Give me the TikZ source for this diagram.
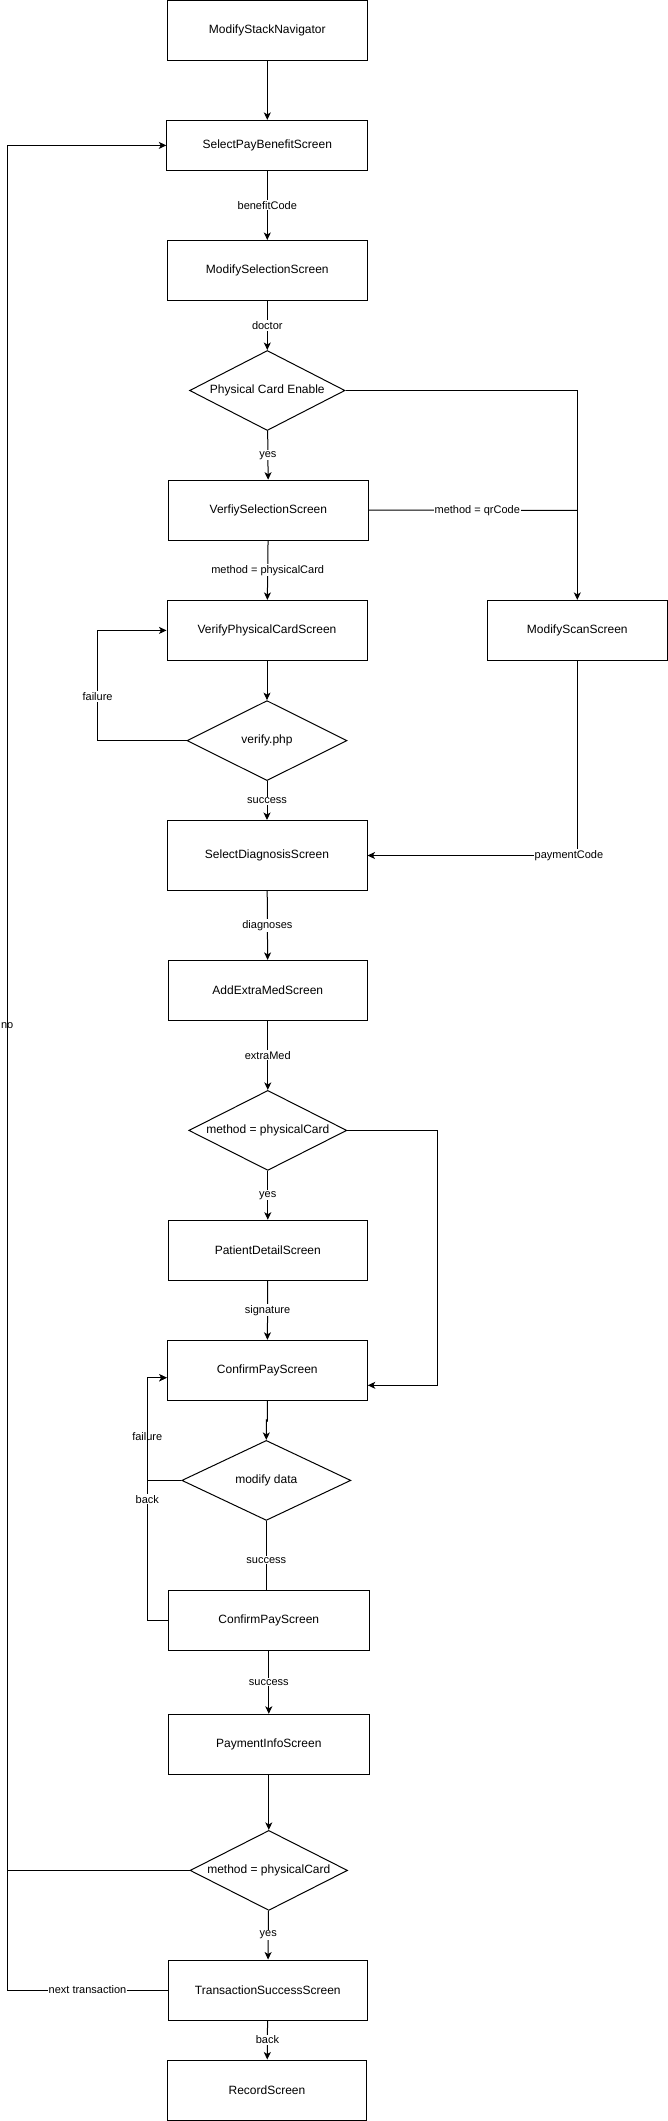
\documentclass[tikz,border=0pt]{standalone}
\usepackage{fontspec}
\setmainfont{Liberation Sans}
\usetikzlibrary{shapes.geometric,arrows.meta}
\begin{document}
\begin{tikzpicture}[x=1pt,y=-1pt,
  box/.style={draw,line width=1pt,rectangle,minimum width=#1,minimum height=60pt,inner sep=0pt,font=\fontsize{12}{14}\selectfont},
  box/.default=200pt,
  dec/.style={draw,line width=1pt,diamond,inner sep=0pt,font=\fontsize{12}{14}\selectfont},
  lbl/.style={fill=white,inner sep=1pt,font=\fontsize{11}{13}\selectfont},
  lblnf/.style={inner sep=1pt,font=\fontsize{11}{13}\selectfont},
  conn/.style={line width=1pt,-{Stealth[length=7.5pt,width=7pt,inset=2pt]}},
  plain/.style={line width=1pt}
]
\useasboundingbox (0,0) rectangle (668,2121);

% nodes
\node[box] (nav) at (267.3,30.5) {ModifyStackNavigator};
\node[box=201pt,minimum height=50pt] (spb) at (267.3,145.4) {SelectPayBenefitScreen};
\node[box] (msel) at (267.3,270.5) {ModifySelectionScreen};
\node[dec,minimum width=155.4pt,minimum height=80pt] (d1) at (267.3,390.5) {\makebox[0pt]{Physical Card Enable}};
\node[box] (vsel) at (268.4,510.2) {VerfiySelectionScreen};
\node[box] (vpc) at (267,630.4) {VerifyPhysicalCardScreen};
\node[box=180pt] (scan) at (577.3,630.4) {ModifyScanScreen};
\node[dec,minimum width=160pt,minimum height=80pt] (d2) at (267,740.6) {\makebox[0pt]{verify.php}};
\node[box,minimum height=70pt] (diag) at (267,855.5) {SelectDiagnosisScreen};
\node[box=199pt] (extra) at (267.8,990.4) {AddExtraMedScreen};
\node[dec,minimum width=158pt,minimum height=80pt] (d3) at (267.8,1130.4) {\makebox[0pt]{method = physicalCard}};
\node[box=199pt] (pat) at (267.8,1250.2) {PatientDetailScreen};
\node[box] (cp1) at (267.3,1370.3) {ConfirmPayScreen};
\node[dec,minimum width=169pt,minimum height=80pt] (d4) at (266.3,1480.4) {\makebox[0pt]{modify data}};
\node[box=201pt] (cp2) at (268.8,1620.4) {ConfirmPayScreen};
\node[box=201pt] (pinfo) at (268.8,1744.3) {PaymentInfoScreen};
\node[dec,minimum width=157.5pt,minimum height=80pt] (d5) at (268.8,1870.4) {\makebox[0pt]{method = physicalCard}};
\node[box=199pt] (tss) at (267.8,1990) {TransactionSuccessScreen};
\node[box=199pt] (rec) at (267,2090) {RecordScreen};

% helper coordinates
\coordinate (qj) at (577.3,510.3);
\coordinate (lx) at (7.2,0);
\coordinate (fx1) at (97.6,0);
\coordinate (fx2) at (147.3,0);
\coordinate (rx) at (437.2,0);

% connectors
\draw[conn] (nav) -- (spb);
\draw[conn] (spb) -- node[lbl] (l1) {benefitCode} (msel);
\draw[conn] (msel) -- node[lbl] (l2) {doctor} (d1);
\draw[conn] (d1) -- node[lbl] (l3) {yes} (vsel);
\draw[conn] (d1.east) -| (scan.north);
\draw[plain] (vsel.east) -- node[lbl,pos=0.52] (l4) {method = qrCode} (qj);
\draw[conn] (vsel) -- node[lbl] (l5) {method = physicalCard} (vpc);
\draw[conn] (vpc) -- (d2);
\draw[conn] (d2.west) -- (fx1 |- d2.west) -- node[lbl,pos=0.4] (l6) {failure} (fx1 |- vpc.west) -- (vpc.west);
\draw[conn] (d2) -- node[lbl] (l7) {success} (diag);
\draw[conn] (scan.south) |- node[lbl,pos=0.52] (l8) {paymentCode} (diag.east);
\draw[conn] (diag) -- node[lbl] (l9) {diagnoses} (extra);
\draw[conn] (extra) -- node[lbl] (l10) {extraMed} (d3);
\draw[conn] (d3) -- node[lbl] (l11) {yes} (pat);
\draw[conn] (d3.east) -- (rx |- d3.east) -- ([yshift=-15pt]rx |- cp1.east) -- ([yshift=-15pt]cp1.east);
\draw[conn] (pat) -- node[lbl] (l12) {signature} (cp1);
\draw[conn] (cp1.south) -- ++(0,20) -- (d4.north |- 0,1420) -- (d4.north);
\draw[conn] (d4.west) -- (fx2 |- d4.west) -- node[lbl,pos=0.43] (l13) {failure} ([yshift=-7.4pt]fx2 |- cp1.west) -- ([yshift=-7.4pt]cp1.west);
\draw[conn] (cp2.west) -- (fx2 |- cp2.west) -- node[lbl,pos=0.5] (l14) {back} ([yshift=-7.4pt]fx2 |- cp1.west) -- ([yshift=-7.4pt]cp1.west);
\draw[plain] (d4) -- node[lbl,pos=0.57] (l15) {success} (cp2.north -| d4);
\draw[conn] (cp2) -- node[lbl] (l16) {success} (pinfo);
\draw[conn] (pinfo) -- (d5);
\draw[conn] (d5.west) -- (lx |- d5.west) -- node[lblnf,pos=0.49] (l17) {no} (lx |- spb.west) -- (spb.west);
\draw[conn] (d5) -- node[lbl] (l18) {yes} (tss);
\draw[plain] (tss.west) -- node[lbl,pos=0.5] (l19) {next transaction} (lx |- tss.west) -- (lx |- d5.west);
\draw[conn] (tss) -- node[lbl] (l20) {back} (rec);
\end{tikzpicture}
\end{document}
